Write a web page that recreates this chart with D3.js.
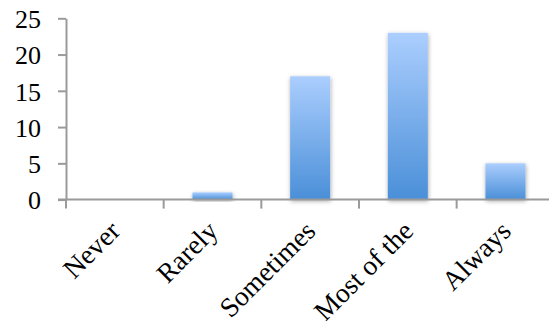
<!DOCTYPE html>
<html>
<head>
<meta charset="utf-8">
<script src="https://cdn.jsdelivr.net/npm/d3@7"></script>
<style>
  html, body { margin: 0; padding: 0; background: #fff; }
  svg { display: block; }
  text { font-family: "Liberation Serif", "Times New Roman", serif; fill: #000; }
</style>
</head>
<body>
<svg id="chart" width="549" height="321"></svg>
<script>
// Survey answers: how often each response was chosen
const categories = ["Never", "Rarely", "Sometimes", "Most of the", "Always"];
const counts = [0, 1, 17, 23, 5];
const yTicks = [0, 5, 10, 15, 20, 25];

const W = 549, H = 321;
const plot = { left: 66, right: 554.3, top: 18.3, bottom: 199.6 };

const svg = d3.select("#chart");

// Bar fill: light blue at the top fading to a deeper blue at the bottom
const defs = svg.append("defs");
const grad = defs.append("linearGradient")
  .attr("id", "barFill").attr("x1", 0).attr("y1", 0).attr("x2", 0).attr("y2", 1);
grad.append("stop").attr("offset", "0%").attr("stop-color", "#abcefe");
grad.append("stop").attr("offset", "100%").attr("stop-color", "#4a8fd8");

const shadow = defs.append("filter").attr("id", "barShadow")
  .attr("x", "-30%").attr("y", "-30%").attr("width", "160%").attr("height", "160%");
shadow.append("feDropShadow")
  .attr("dx", 0.5).attr("dy", 1.5).attr("stdDeviation", 2)
  .attr("flood-color", "#000").attr("flood-opacity", 0.35);

const x = d3.scaleBand().domain(categories).range([plot.left, plot.right]).padding(0);
const y = d3.scaleLinear().domain([0, 25]).range([plot.bottom, plot.top]);

const barW = x.bandwidth() * 0.41;
const axisColor = "#9a9a9a";

// Bars
svg.append("g").selectAll("rect")
  .data(categories.map((c, i) => ({ c, v: counts[i] })).filter(d => d.v > 0))
  .join("rect")
  .attr("x", d => x(d.c) + x.bandwidth() / 2 - barW / 2)
  .attr("y", d => y(d.v))
  .attr("width", barW)
  .attr("height", d => y(0) - y(d.v))
  .attr("fill", "url(#barFill)")
  .attr("filter", "url(#barShadow)");

// Y axis
const yAxis = svg.append("g")
  .attr("transform", `translate(${plot.left},0)`)
  .call(d3.axisLeft(y).tickValues(yTicks).tickSize(8).tickPadding(17).tickSizeOuter(0));
yAxis.select(".domain").attr("stroke", axisColor).attr("stroke-width", 2);
yAxis.selectAll(".tick line").attr("stroke", axisColor).attr("stroke-width", 2);
yAxis.selectAll(".tick text")
  .style("font-family", '"Liberation Serif", serif')
  .attr("font-size", 26).attr("dy", "0.36em").attr("fill", "#000");

// X axis: baseline with tick marks between categories
const xAxis = svg.append("g");
xAxis.append("line")
  .attr("x1", plot.left - 8).attr("x2", W)
  .attr("y1", y(0)).attr("y2", y(0))
  .attr("stroke", axisColor).attr("stroke-width", 2);
const boundaries = categories.map(c => x(c)).concat([x(categories[categories.length - 1]) + x.step()]);
xAxis.selectAll("line.tick")
  .data(boundaries)
  .join("line")
  .attr("class", "tick")
  .attr("x1", d => d).attr("x2", d => d)
  .attr("y1", y(0)).attr("y2", y(0) + 9)
  .attr("stroke", axisColor).attr("stroke-width", 2);

// Rotated category labels
xAxis.selectAll("text")
  .data(categories)
  .join("text")
  .attr("transform", d => `translate(${x(d) + x.bandwidth() / 2 + 7},${y(0) + 33}) rotate(-45)`)
  .attr("text-anchor", "end")
  .attr("font-size", 27.5)
  .text(d => d);
</script>
</body>
</html>
